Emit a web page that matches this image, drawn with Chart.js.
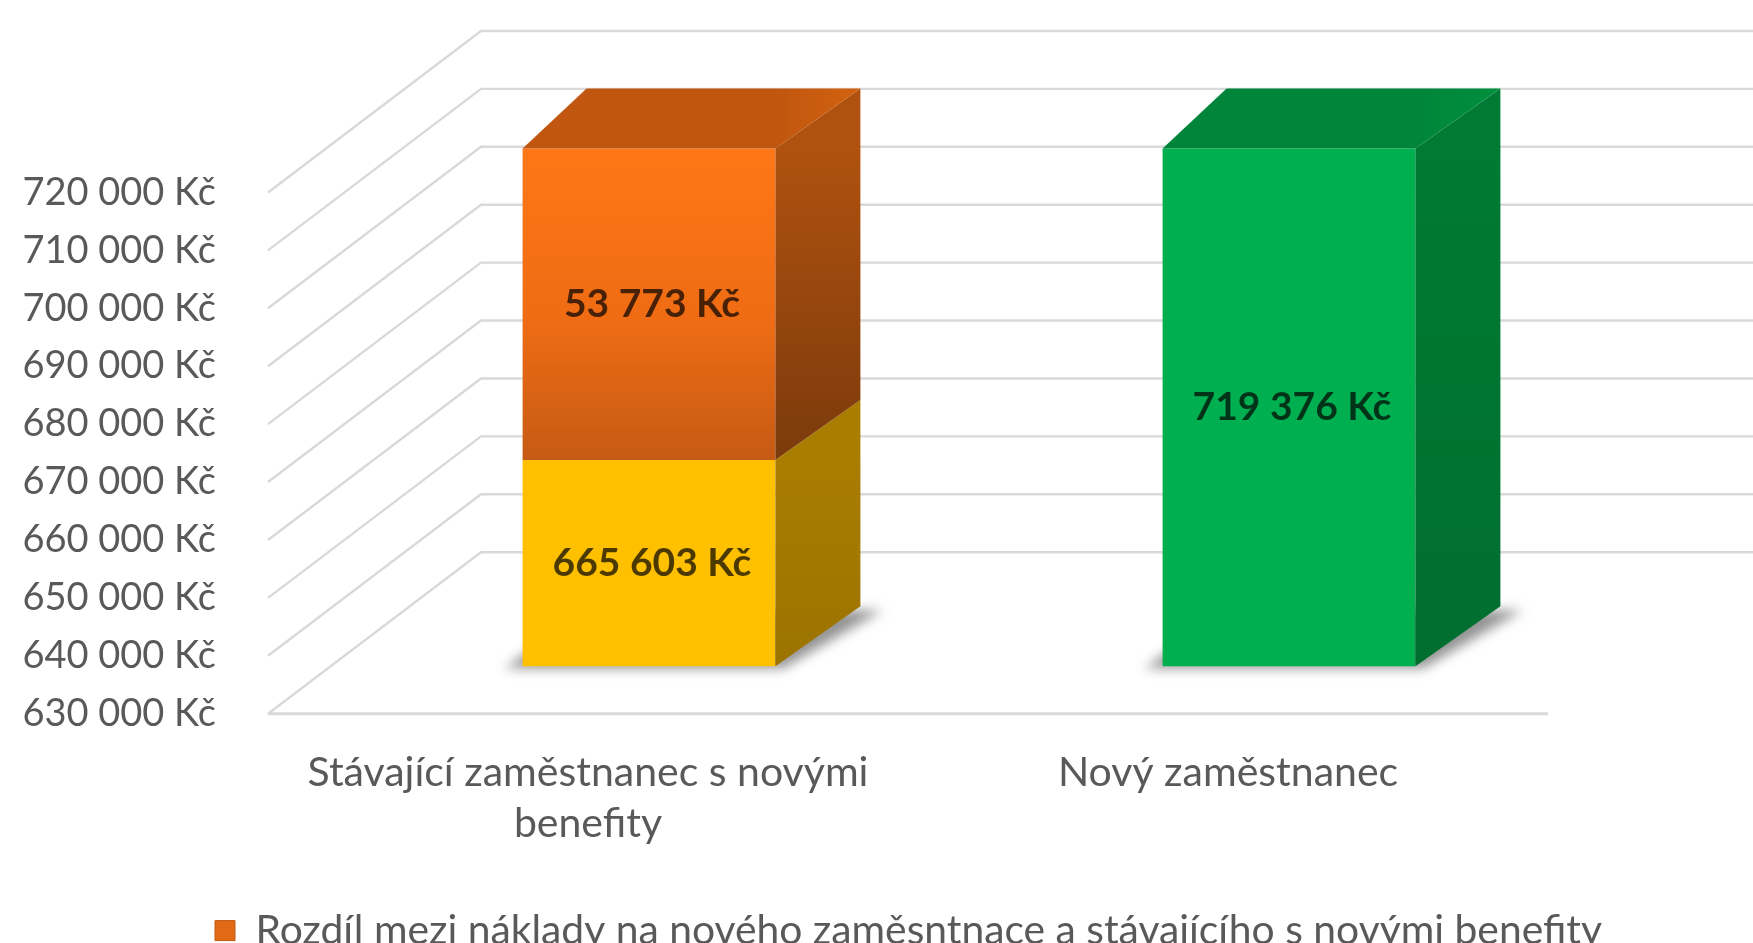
<!DOCTYPE html>
<html><head><meta charset="utf-8">
<script src="https://cdn.jsdelivr.net/npm/chart.js@4.4.1/dist/chart.umd.min.js"></script>
<style>html,body{margin:0;padding:0;background:#fff;overflow:hidden}canvas{display:block}</style>
</head><body>
<canvas id="c" width="1753" height="961"></canvas>
<script>
// ---- data ----
const categories = [['Stávající zaměstnanec s novými', 'benefity'], 'Nový zaměstnanec'];
const seriesNames = [
  'Náklady na stávajícího zaměstnance s novými benefity',
  'Rozdíl mezi náklady na nového zaměsntnace a stávajícího s novými benefity',
  'Náklady na nového zaměstnance'
];
const currentCost = [665603, null];
const difference = [53773, null];
const newCost = [null, 719376];
const axisMin = 630000;
const axisMax = 720000;
const axisStep = 10000;
const currency = 'Kč';

// ---- styling / geometry ----
const FONT = 'Lato, "Open Sans", sans-serif';
const TEXT = '#595959';
const FRONT = {dx: -61, dy: 47.5};   // front edge of floor relative to bar plane
const BACK = {dx: 152, dy: -114};    // back wall relative to bar plane
const DEPTH = {dxL: 64, dxR: 85, dy: -60}; // bar depth
const LEGEND_LEFT = 208;
const faceColors = [
  {side: ['#a87d00', '#9c7300'], top: '#c99700'},
  {side: ['#b0520f', '#7b3a0c'], top: ['#c0560f', '#d2620f']},
  {side: ['#007a34', '#006e2f'], top: ['#00853a', '#008f3d']}
];

function fmt(v) { return String(Math.round(v)).replace(/\B(?=(\d{3})+(?!\d))/g, ' ') + ' ' + currency; }

const pseudo3d = {
  id: 'pseudo3d',
  afterLayout(chart) {
    if (chart.legend) chart.legend.left = LEGEND_LEFT;
  },
  beforeDatasetsDraw(chart) {
    const {ctx, chartArea: ca, scales: {y}} = chart;
    ctx.save();
    ctx.lineWidth = 2.4;
    ctx.strokeStyle = '#d9d9d9';
    y.ticks.forEach(t => {
      const p = y.getPixelForValue(t.value);
      ctx.beginPath();
      ctx.moveTo(ca.left + FRONT.dx, p + FRONT.dy);
      ctx.lineTo(ca.left + BACK.dx, p + BACK.dy);
      ctx.lineTo(chart.width, p + BACK.dy);
      ctx.stroke();
    });
    const p0 = y.getPixelForValue(y.min);
    ctx.lineWidth = 3;
    ctx.beginPath();
    ctx.moveTo(ca.left + FRONT.dx, p0 + FRONT.dy);
    ctx.lineTo(ca.right + FRONT.dx, p0 + FRONT.dy);
    ctx.stroke();
    // soft floor shadows under the stacks
    chart.getDatasetMeta(0).data.forEach((_, i) => {
      let el = null;
      chart.data.datasets.forEach((ds, d) => { if (ds.data[i] != null) el = chart.getDatasetMeta(d).data[i]; });
      if (!el) return;
      const w = el.width, l = el.x - w / 2, r = el.x + w / 2, b = ca.bottom;
      ctx.save();
      ctx.filter = 'blur(6px)';
      ctx.fillStyle = 'rgba(60,60,60,0.55)';
      ctx.beginPath();
      ctx.moveTo(l - 18, b + 2);
      ctx.lineTo(r + 8, b + 2);
      ctx.lineTo(r + DEPTH.dxR + 22, b + DEPTH.dy + 4);
      ctx.lineTo(l + DEPTH.dxL, b + DEPTH.dy + 4);
      ctx.closePath();
      ctx.fill();
      ctx.restore();
    });
    ctx.restore();
  },
  afterDatasetsDraw(chart) {
    const {ctx, chartArea: ca} = chart;
    ctx.save();
    const nCat = chart.data.labels.length;
    for (let i = 0; i < nCat; i++) {
      let topIdx = -1;
      chart.data.datasets.forEach((ds, d) => { if (ds.data[i] != null) topIdx = d; });
      chart.data.datasets.forEach((ds, d) => {
        if (ds.data[i] == null) return;
        const el = chart.getDatasetMeta(d).data[i];
        const {x, y, width, base} = el.getProps(['x', 'y', 'width', 'base'], true);
        const l = x - width / 2, r = x + width / 2;
        const t = Math.max(y, ca.top), b = Math.min(base, ca.bottom);
        const fc = faceColors[d];
        // side face
        const g = ctx.createLinearGradient(0, t, 0, b);
        g.addColorStop(0, fc.side[0]); g.addColorStop(1, fc.side[1]);
        ctx.fillStyle = g;
        ctx.beginPath();
        ctx.moveTo(r, t); ctx.lineTo(r + DEPTH.dxR, t + DEPTH.dy);
        ctx.lineTo(r + DEPTH.dxR, b + DEPTH.dy); ctx.lineTo(r, b);
        ctx.closePath(); ctx.fill();
        if (d === topIdx) {
          const tg = ctx.createLinearGradient(l, 0, r + DEPTH.dxR, 0);
          const tc = Array.isArray(fc.top) ? fc.top : [fc.top, fc.top];
          tg.addColorStop(0, tc[0]); tg.addColorStop(0.75, tc[0]); tg.addColorStop(1, tc[1]);
          ctx.fillStyle = tg;
          ctx.beginPath();
          ctx.moveTo(l, t); ctx.lineTo(l + DEPTH.dxL, t + DEPTH.dy);
          ctx.lineTo(r + DEPTH.dxR, t + DEPTH.dy); ctx.lineTo(r, t);
          ctx.closePath(); ctx.fill();
        }
        // data label
        ctx.fillStyle = 'rgba(0,0,0,0.7)';
        ctx.font = 'bold 39px ' + FONT;
        ctx.textAlign = 'center';
        ctx.textBaseline = 'middle';
        ctx.fillText(fmt(ds.data[i]), x + 3, (t + b) / 2);
      });
    }
    ctx.restore();
  }
};

const orangeFront = (c) => {
  const ch = c.chart, ca = ch.chartArea;
  if (!ca || c.type !== 'data') return '#e36c16';
  const y = ch.scales.y;
  const g = ch.ctx.createLinearGradient(0, ca.top, 0, y.getPixelForValue(currentCost[0] != null ? currentCost[0] : axisMin));
  g.addColorStop(0, '#ff7716'); g.addColorStop(0.55, '#ef6c14'); g.addColorStop(1, '#c65a14');
  return g;
};

new Chart(document.getElementById('c'), {
  type: 'bar',
  data: {
    labels: categories,
    datasets: [
      {label: seriesNames[0], data: currentCost, backgroundColor: '#ffc000'},
      {label: seriesNames[1], data: difference, backgroundColor: orangeFront},
      {label: seriesNames[2], data: newCost, backgroundColor: '#00b050'}
    ]
  },
  options: {
    responsive: false,
    animation: false,
    layout: {padding: {left: 0, right: 144, top: 145, bottom: 0}},
    datasets: {bar: {categoryPercentage: 1, barPercentage: 0.395, borderWidth: 0}},
    plugins: {
      tooltip: {enabled: false},
      legend: {
        position: 'bottom',
        labels: {
          filter: (item) => item.datasetIndex === 1,
          boxWidth: 20, boxHeight: 20, padding: 10,
          color: TEXT, font: {family: FONT, size: 40.8},
          generateLabels: (chart) => Chart.defaults.plugins.legend.labels.generateLabels(chart).map(it => Object.assign(it, {fillStyle: '#e06a15', strokeStyle: '#c05a10', lineWidth: 1}))
        }
      }
    },
    scales: {
      x: {
        stacked: true,
        grid: {display: false}, border: {display: false},
        ticks: {color: TEXT, font: {family: FONT, size: 41, lineHeight: 1.24}, labelOffset: FRONT.dx, padding: 73, maxRotation: 0, autoSkip: false},
        afterFit: (s) => { s.height = 234; }
      },
      y: {
        stacked: true, min: axisMin, max: axisMax,
        grid: {display: false, drawTicks: false}, border: {display: false},
        ticks: {stepSize: axisStep, color: TEXT, font: {family: FONT, size: 38}, labelOffset: FRONT.dy, padding: 113, callback: (v) => fmt(v)},
        afterFit: (s) => { s.width = 329; }
      }
    }
  },
  plugins: [pseudo3d]
});
</script>
</body></html>
